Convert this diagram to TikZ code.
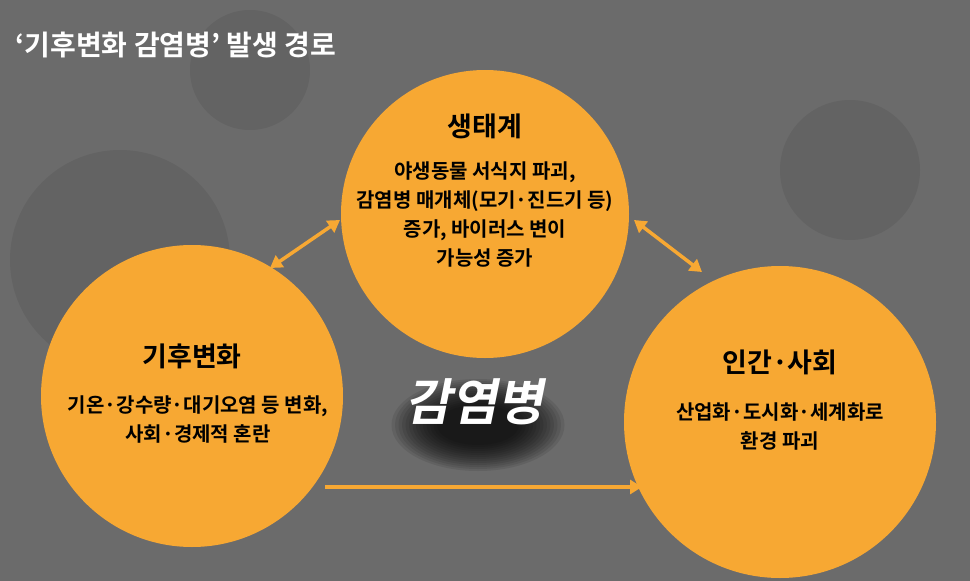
\documentclass[tikz,border=0pt]{standalone}
\usepackage{fontspec}
\setmainfont{Noto Sans CJK KR}[BoldFont={Noto Sans CJK KR Bold}]
\usetikzlibrary{arrows.meta}
\definecolor{bg}{HTML}{6B6B6B}
\definecolor{org}{HTML}{F7A833}
\tikzset{
  circ/.style={circle,fill=org,draw=none,inner sep=0pt},
  ttl/.style={font=\bfseries\fontsize{27}{30}\selectfont,text=black},
  body/.style={font=\bfseries\fontsize{20}{29}\selectfont,text=black,align=center},
  arr/.style={org,line width=3.5pt,-{Triangle[length=12pt,width=14pt]}},
  darr/.style={org,line width=3.5pt,{Triangle[length=12pt,width=14pt]}-{Triangle[length=12pt,width=14pt]}}
}
\begin{document}
\begin{tikzpicture}[x=1pt,y=-1pt]
\fill[bg] (0,0) rectangle (970,581);
\fill[black,opacity=0.07] (120,260) circle (110);
\fill[black,opacity=0.07] (850,170) circle (70);
\fill[black,opacity=0.07] (250,70) circle (60);
\useasboundingbox (0,0) rectangle (970,581);
\node[anchor=west,text=white,font=\bfseries\fontsize{28}{32}\selectfont] (t) at (12,45) {‘기후변화 감염병’ 발생 경로};
\node[circ,minimum size=288pt] (eco) at (485,214) {};
\node[circ,minimum size=302pt] (cli) at (192,396) {};
\node[circ,minimum size=312pt] (soc) at (780,422) {};
\node[ttl] (ecot) at (485,126) {생태계};
\node[body] (ecob) at (485,214) {야생동물 서식지 파괴,\\감염병 매개체(모기·진드기 등)\\증가, 바이러스 변이\\가능성 증가};
\node[ttl] (clit) at (192,356) {기후변화};
\node[body] (clib) at (198,420) {기온·강수량·대기오염 등 변화,\\사회·경제적 혼란};
\node[ttl] (soct) at (780,362) {인간·사회};
\node[body] (socb) at (780,427) {산업화·도시화·세계화로\\환경 파괴};
\foreach \i in {1,...,14}{
  \fill[black,opacity=0.09] (478,425) ellipse ({90-3.5*\i} and {48-2*\i});
}
\node[text=white,font=\bfseries\fontsize{50}{56}\selectfont,xslant=0.2] (mid) at (478,402) {감염병};
\coordinate (a1) at (270,268); \coordinate (a2) at (340,220);
\coordinate (b1) at (634,220); \coordinate (b2) at (702,272);
\coordinate (c1) at (325,487); \coordinate (c2) at (642,487);
\draw[darr] (a1) -- (a2);
\draw[darr] (b1) -- (b2);
\draw[arr] (c1) -- (c2);
\end{tikzpicture}
\end{document}
